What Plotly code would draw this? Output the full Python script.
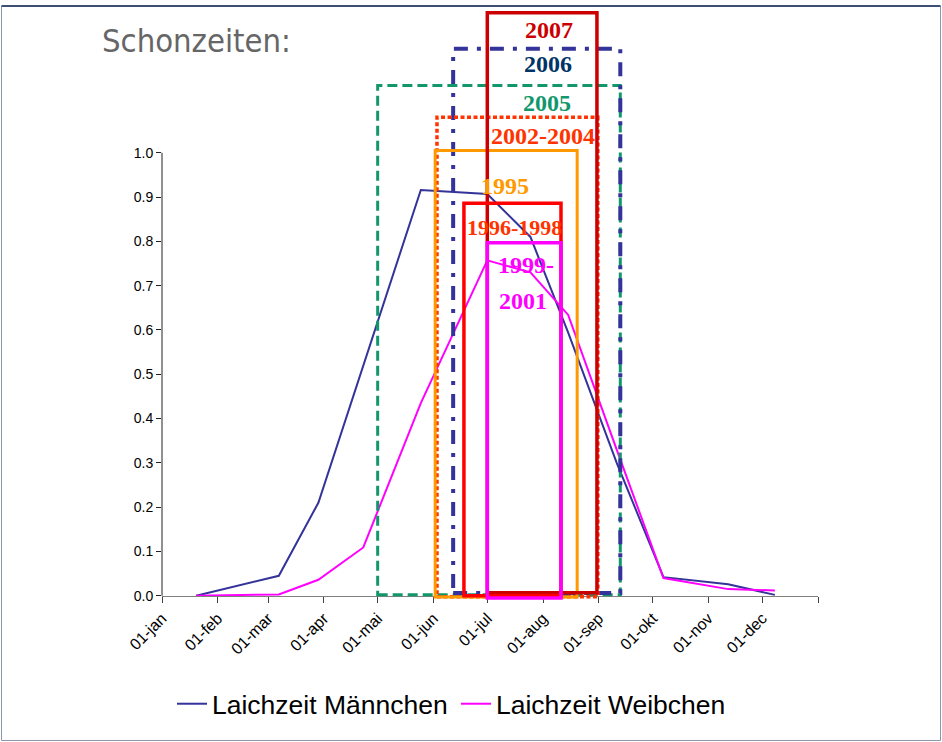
import plotly.graph_objects as go

# Spawning activity (share of fish) over the year
obs_dates = ["2007-01-20", "2007-03-07", "2007-03-29", "2007-04-23", "2007-05-25", "2007-07-01",
             "2007-07-25", "2007-08-15", "2007-09-11", "2007-10-07", "2007-11-12", "2007-12-08"]
maennchen = [0.0, 0.045, 0.21, 0.52, 0.916, 0.907, 0.81, 0.594, 0.30, 0.042, 0.026, 0.002]
weibchen = [0.0, 0.003, 0.036, 0.109, 0.435, 0.757, 0.73, 0.634, 0.33, 0.040, 0.015, 0.012]

# Closed seasons (Schonzeiten): label, start, end, box top, box bottom
season_labels = ["2005", "2006", "2002-2004", "1995", "2007", "1996-1998", "1999-2001"]
season_start = ["2007-05-01", "2007-06-12", "2007-06-03", "2007-06-02", "2007-07-01", "2007-06-18", "2007-07-01"]
season_end = ["2007-09-13", "2007-09-13", "2007-08-31 12:00", "2007-08-20", "2007-08-31", "2007-08-11", "2007-08-11"]
season_top = [1.152, 1.235, 1.080, 1.005, 1.316, 0.886, 0.797]
season_bottom = [0.002, 0.006, -0.002, -0.003, 0.007, 0.0, -0.005]

month_ticks = ["2007-01-01", "2007-02-01", "2007-03-01", "2007-04-01", "2007-05-01", "2007-06-01",
               "2007-07-01", "2007-08-01", "2007-09-01", "2007-10-01", "2007-11-01", "2007-12-01",
               "2008-01-01"]
month_labels = ["01-jan", "01-feb", "01-mar", "01-apr", "01-mai", "01-jun", "01-jul",
                "01-aug", "01-sep", "01-okt", "01-nov", "01-dec", ""]
y_ticks = [0.0, 0.1, 0.2, 0.3, 0.4, 0.5, 0.6, 0.7, 0.8, 0.9, 1.0]

season_style = {
    "2005": dict(color="#12976c", width=3, dash="10px,5px"),
    "2006": dict(color="#333399", width=4, dash="14px,9px,4px,9px"),
    "2002-2004": dict(color="#ff3300", width=3.5, dash="4px,2.5px"),
    "1995": dict(color="#ff9900", width=3, dash="solid"),
    "2007": dict(color="#cc0000", width=3.5, dash="solid"),
    "1996-1998": dict(color="#ff0000", width=3.5, dash="solid"),
    "1999-2001": dict(color="#ff00ff", width=3.5, dash="solid"),
}
label_color = {
    "2007": "#cc0000", "2006": "#003366", "2005": "#12976c", "2002-2004": "#ff3300",
    "1995": "#ff9900", "1996-1998": "#ff3300", "1999-2001": "#ff00ff",
}

W, H = 942, 742
L, R, T, B = 162, 124, 11, 141
plot_w, plot_h = W - L - R, H - T - B
px_per_unit = 443.0
y_max = 1.32
y_min = y_max - plot_h / px_per_unit


def px(x):
    return (x - L) / plot_w


def py(y):
    return (H - B - y) / plot_h


fig = go.Figure()
fig.add_trace(go.Scatter(x=obs_dates, y=maennchen, mode="lines", name="Laichzeit Männchen",
                         line=dict(color="#333399", width=2)))
fig.add_trace(go.Scatter(x=obs_dates, y=weibchen, mode="lines", name="Laichzeit Weibchen",
                         line=dict(color="#ff00ff", width=2)))

shapes = []
for lab, s, e, top, bot in zip(season_labels, season_start, season_end, season_top, season_bottom):
    st = season_style[lab]
    shapes.append(dict(type="rect", xref="x", yref="y", x0=s, x1=e, y0=bot, y1=top,
                       layer="above", fillcolor="rgba(0,0,0,0)",
                       line=dict(color=st["color"], width=st["width"], dash=st["dash"])))

# y axis line only up to 1.0
shapes.append(dict(type="line", xref="paper", yref="y", x0=0, x1=0, y0=0, y1=1.0,
                   line=dict(color="#222222", width=1), layer="above"))
# outer frame
shapes.append(dict(type="rect", xref="paper", yref="paper", x0=px(1.5), x1=px(940.5),
                   y0=py(740.5), y1=py(6), line=dict(color="#8a97ad", width=1), layer="below"))
shapes.append(dict(type="line", xref="paper", yref="paper", x0=px(1.5), x1=px(940.5),
                   y0=py(6), y1=py(6), line=dict(color="#3d4f74", width=2), layer="below"))

serif = "Liberation Serif, Times New Roman, serif"
label_pos = {
    "2007": (548.5, 29.5, 24),
    "2006": (548, 64, 24),
    "2005": (547, 103, 24),
    "2002-2004": (542.7, 136, 24),
    "1995": (504.7, 186, 24),
    "1996-1998": (514.7, 227, 22),
}
annotations = []
for lab, (x, y, size) in label_pos.items():
    annotations.append(dict(text="<b>%s</b>" % lab, xref="paper", yref="paper", x=px(x), y=py(y),
                            xanchor="center", yanchor="middle", showarrow=False,
                            font=dict(family=serif, size=size, color=label_color[lab])))
for txt, (x, y) in (("1999-", (496, 265)), ("2001", (496.7, 300.5))):
    annotations.append(dict(text="<b>%s</b>" % txt, xref="paper", yref="paper", x=px(x), y=py(y),
                            xanchor="left", yanchor="middle", showarrow=False,
                            font=dict(family=serif, size=24, color=label_color["1999-2001"])))
annotations.append(dict(text="Schonzeiten:", xref="paper", yref="paper", x=px(100), y=py(41),
                        xanchor="left", yanchor="middle", showarrow=False,
                        font=dict(family="DejaVu Sans Condensed, DejaVu Sans, sans-serif",
                                  size=32.5, color="#666666")))

fig.update_layout(
    width=W, height=H,
    margin=dict(l=L, r=R, t=T, b=B, autoexpand=False),
    paper_bgcolor="white", plot_bgcolor="white",
    showlegend=True,
    legend=dict(orientation="h", x=px(172), y=py(704), xanchor="left", yanchor="middle",
                font=dict(family="Liberation Sans, Arial, sans-serif", size=26.5, color="black"),
                itemwidth=30, entrywidth=239, entrywidthmode="pixels",
                bgcolor="rgba(0,0,0,0)"),
    xaxis=dict(type="date", range=["2007-01-01", "2008-01-01"], tickmode="array",
               tickvals=month_ticks, ticktext=month_labels, tickangle=-45,
               ticks="outside", ticklen=6, tickcolor="#404040", showline=True,
               linecolor="#808080", linewidth=1, showgrid=False, zeroline=False,
               anchor="free", position=(0 - y_min) / (y_max - y_min),
               tickfont=dict(family="Liberation Sans, Arial, sans-serif", size=16, color="black")),
    yaxis=dict(range=[y_min, y_max], tickmode="array", tickvals=y_ticks, tickformat=".1f",
               ticks="outside", ticklen=5, tickcolor="#222222", showline=False,
               showgrid=False, zeroline=False,
               tickfont=dict(family="Liberation Sans, Arial, sans-serif", size=14, color="black")),
    shapes=shapes,
    annotations=annotations,
)

fig.write_html("out.html")
